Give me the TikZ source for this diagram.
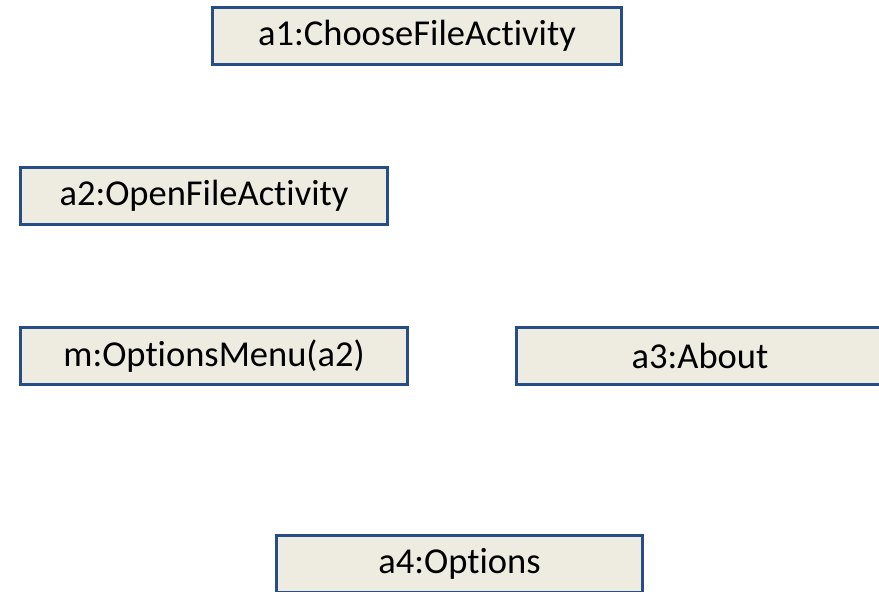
\documentclass[tikz,border=0pt]{standalone}
\usepackage{fontspec}
\setmainfont[Ligatures=CommonOff]{Carlito}
\definecolor{boxfill}{HTML}{EEECE1}
\definecolor{boxline}{RGB}{38,78,134}
\begin{document}
\begin{tikzpicture}[x=1pt,y=-1pt,
  objbox/.style={draw=boxline, fill=boxfill, line width=3pt, rectangle,
    inner sep=0pt, minimum height=57pt, font=\fontsize{36.5}{44}\selectfont}]
\useasboundingbox (0,0) rectangle (879,592);
\node[objbox, minimum width=409pt] (a1) at (417,36) {a1:ChooseFileActivity};
\node[objbox, minimum width=367pt] (a2) at (204,196) {a2:OpenFileActivity};
\node[objbox, minimum width=387pt] (m)  at (214,356) {m:OptionsMenu(a2)};
\node[objbox, minimum width=367pt] (a3) at (700,356) {a3:About};
\node[objbox, minimum width=366pt] (a4) at (459.5,564) {a4:Options};
\end{tikzpicture}
\end{document}
